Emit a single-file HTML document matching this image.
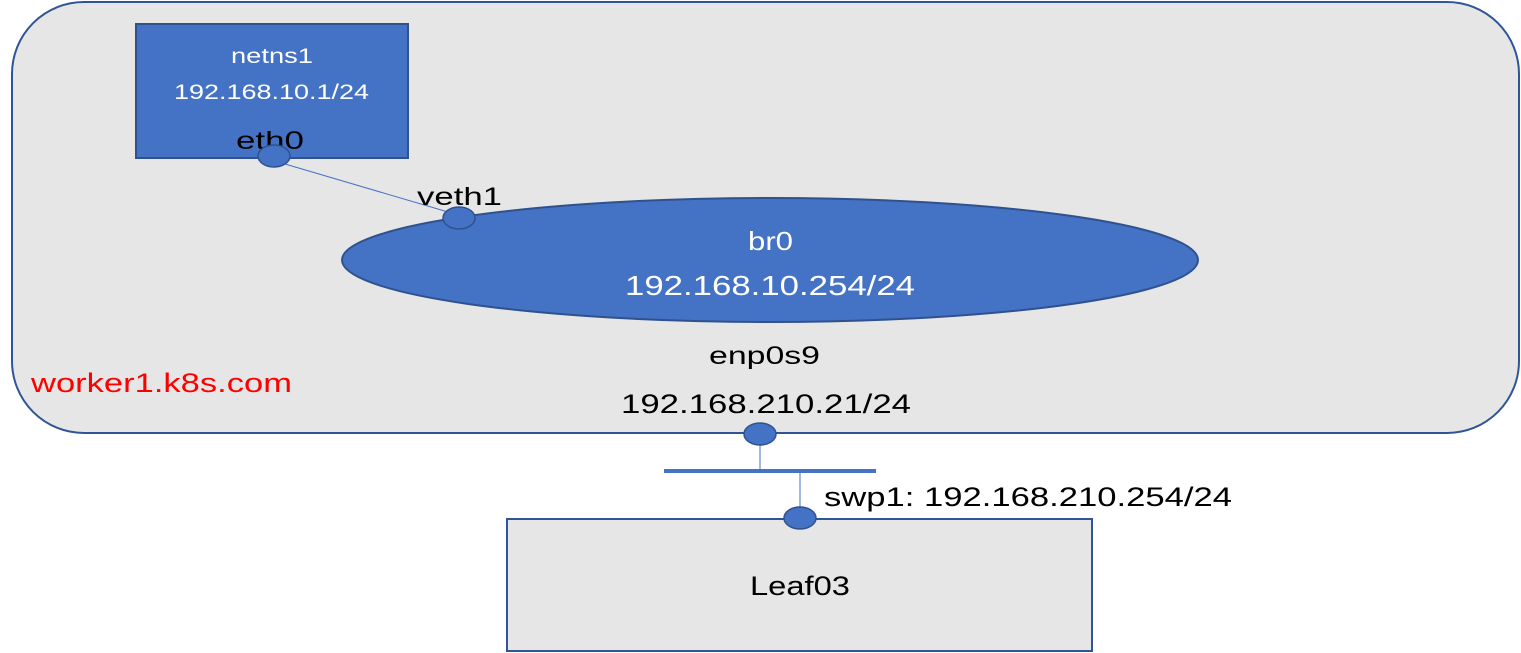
<!DOCTYPE html>
<html><head><meta charset="utf-8"><style>
html,body{margin:0;padding:0;background:#fff;}
svg{display:block;}
text{font-family:"Liberation Sans",sans-serif;}
</style></head><body>
<svg width="1521" height="653" viewBox="0 0 1521 653" xmlns="http://www.w3.org/2000/svg">
<rect x="12" y="2" width="1507" height="431" rx="72" ry="72" fill="#e6e6e6" stroke="#2f5597" stroke-width="2"/>
<rect x="136" y="24" width="272" height="134" fill="#4472c4" stroke="#2f528f" stroke-width="2"/>
<text x="231" y="63" style="font-size:21px" fill="#fff" textLength="82" lengthAdjust="spacingAndGlyphs">netns1</text>
<text x="174" y="99" style="font-size:21px" fill="#fff" textLength="195" lengthAdjust="spacingAndGlyphs">192.168.10.1/24</text>
<text x="236" y="149" style="font-size:25px" fill="#000" textLength="68" lengthAdjust="spacingAndGlyphs">eth0</text>
<line x1="285" y1="164" x2="448" y2="212" stroke="#4472c4" stroke-width="1"/>
<ellipse cx="770" cy="260" rx="428" ry="62" fill="#4472c4" stroke="#2f528f" stroke-width="2"/>
<text x="748" y="250" style="font-size:26px" fill="#fff" textLength="45" lengthAdjust="spacingAndGlyphs">br0</text>
<text x="625" y="295" style="font-size:28px" fill="#fff" textLength="290" lengthAdjust="spacingAndGlyphs">192.168.10.254/24</text>
<ellipse cx="274" cy="156" rx="16" ry="11" fill="#4472c4" stroke="#2f528f" stroke-width="1.5"/>
<text x="417" y="205" style="font-size:25px" fill="#000" textLength="85" lengthAdjust="spacingAndGlyphs">veth1</text>
<ellipse cx="459" cy="218" rx="16" ry="11" fill="#4472c4" stroke="#2f528f" stroke-width="1.5"/>
<text x="709" y="364" style="font-size:25px" fill="#000" textLength="111" lengthAdjust="spacingAndGlyphs">enp0s9</text>
<text x="621" y="413" style="font-size:27px" fill="#000" textLength="290" lengthAdjust="spacingAndGlyphs">192.168.210.21/24</text>
<text x="31" y="392" style="font-size:27px" fill="#ff0000" textLength="261" lengthAdjust="spacingAndGlyphs">worker1.k8s.com</text>
<line x1="760" y1="444" x2="760" y2="470" stroke="#4472c4" stroke-width="1"/>
<rect x="664" y="469" width="212" height="4" fill="#4472c4"/>
<line x1="800" y1="473" x2="800" y2="508" stroke="#4472c4" stroke-width="1"/>
<ellipse cx="760" cy="434" rx="16" ry="11" fill="#4472c4" stroke="#2f528f" stroke-width="1.5"/>
<rect x="507" y="519" width="585" height="132" fill="#e6e6e6" stroke="#2f5597" stroke-width="2"/>
<ellipse cx="800" cy="518" rx="16" ry="11" fill="#4472c4" stroke="#2f528f" stroke-width="1.5"/>
<text x="824" y="506" style="font-size:27px" fill="#000" textLength="408" lengthAdjust="spacingAndGlyphs">swp1: 192.168.210.254/24</text>
<text x="750" y="595" style="font-size:27px" fill="#000" textLength="100" lengthAdjust="spacingAndGlyphs">Leaf03</text>
</svg>
</body></html>
